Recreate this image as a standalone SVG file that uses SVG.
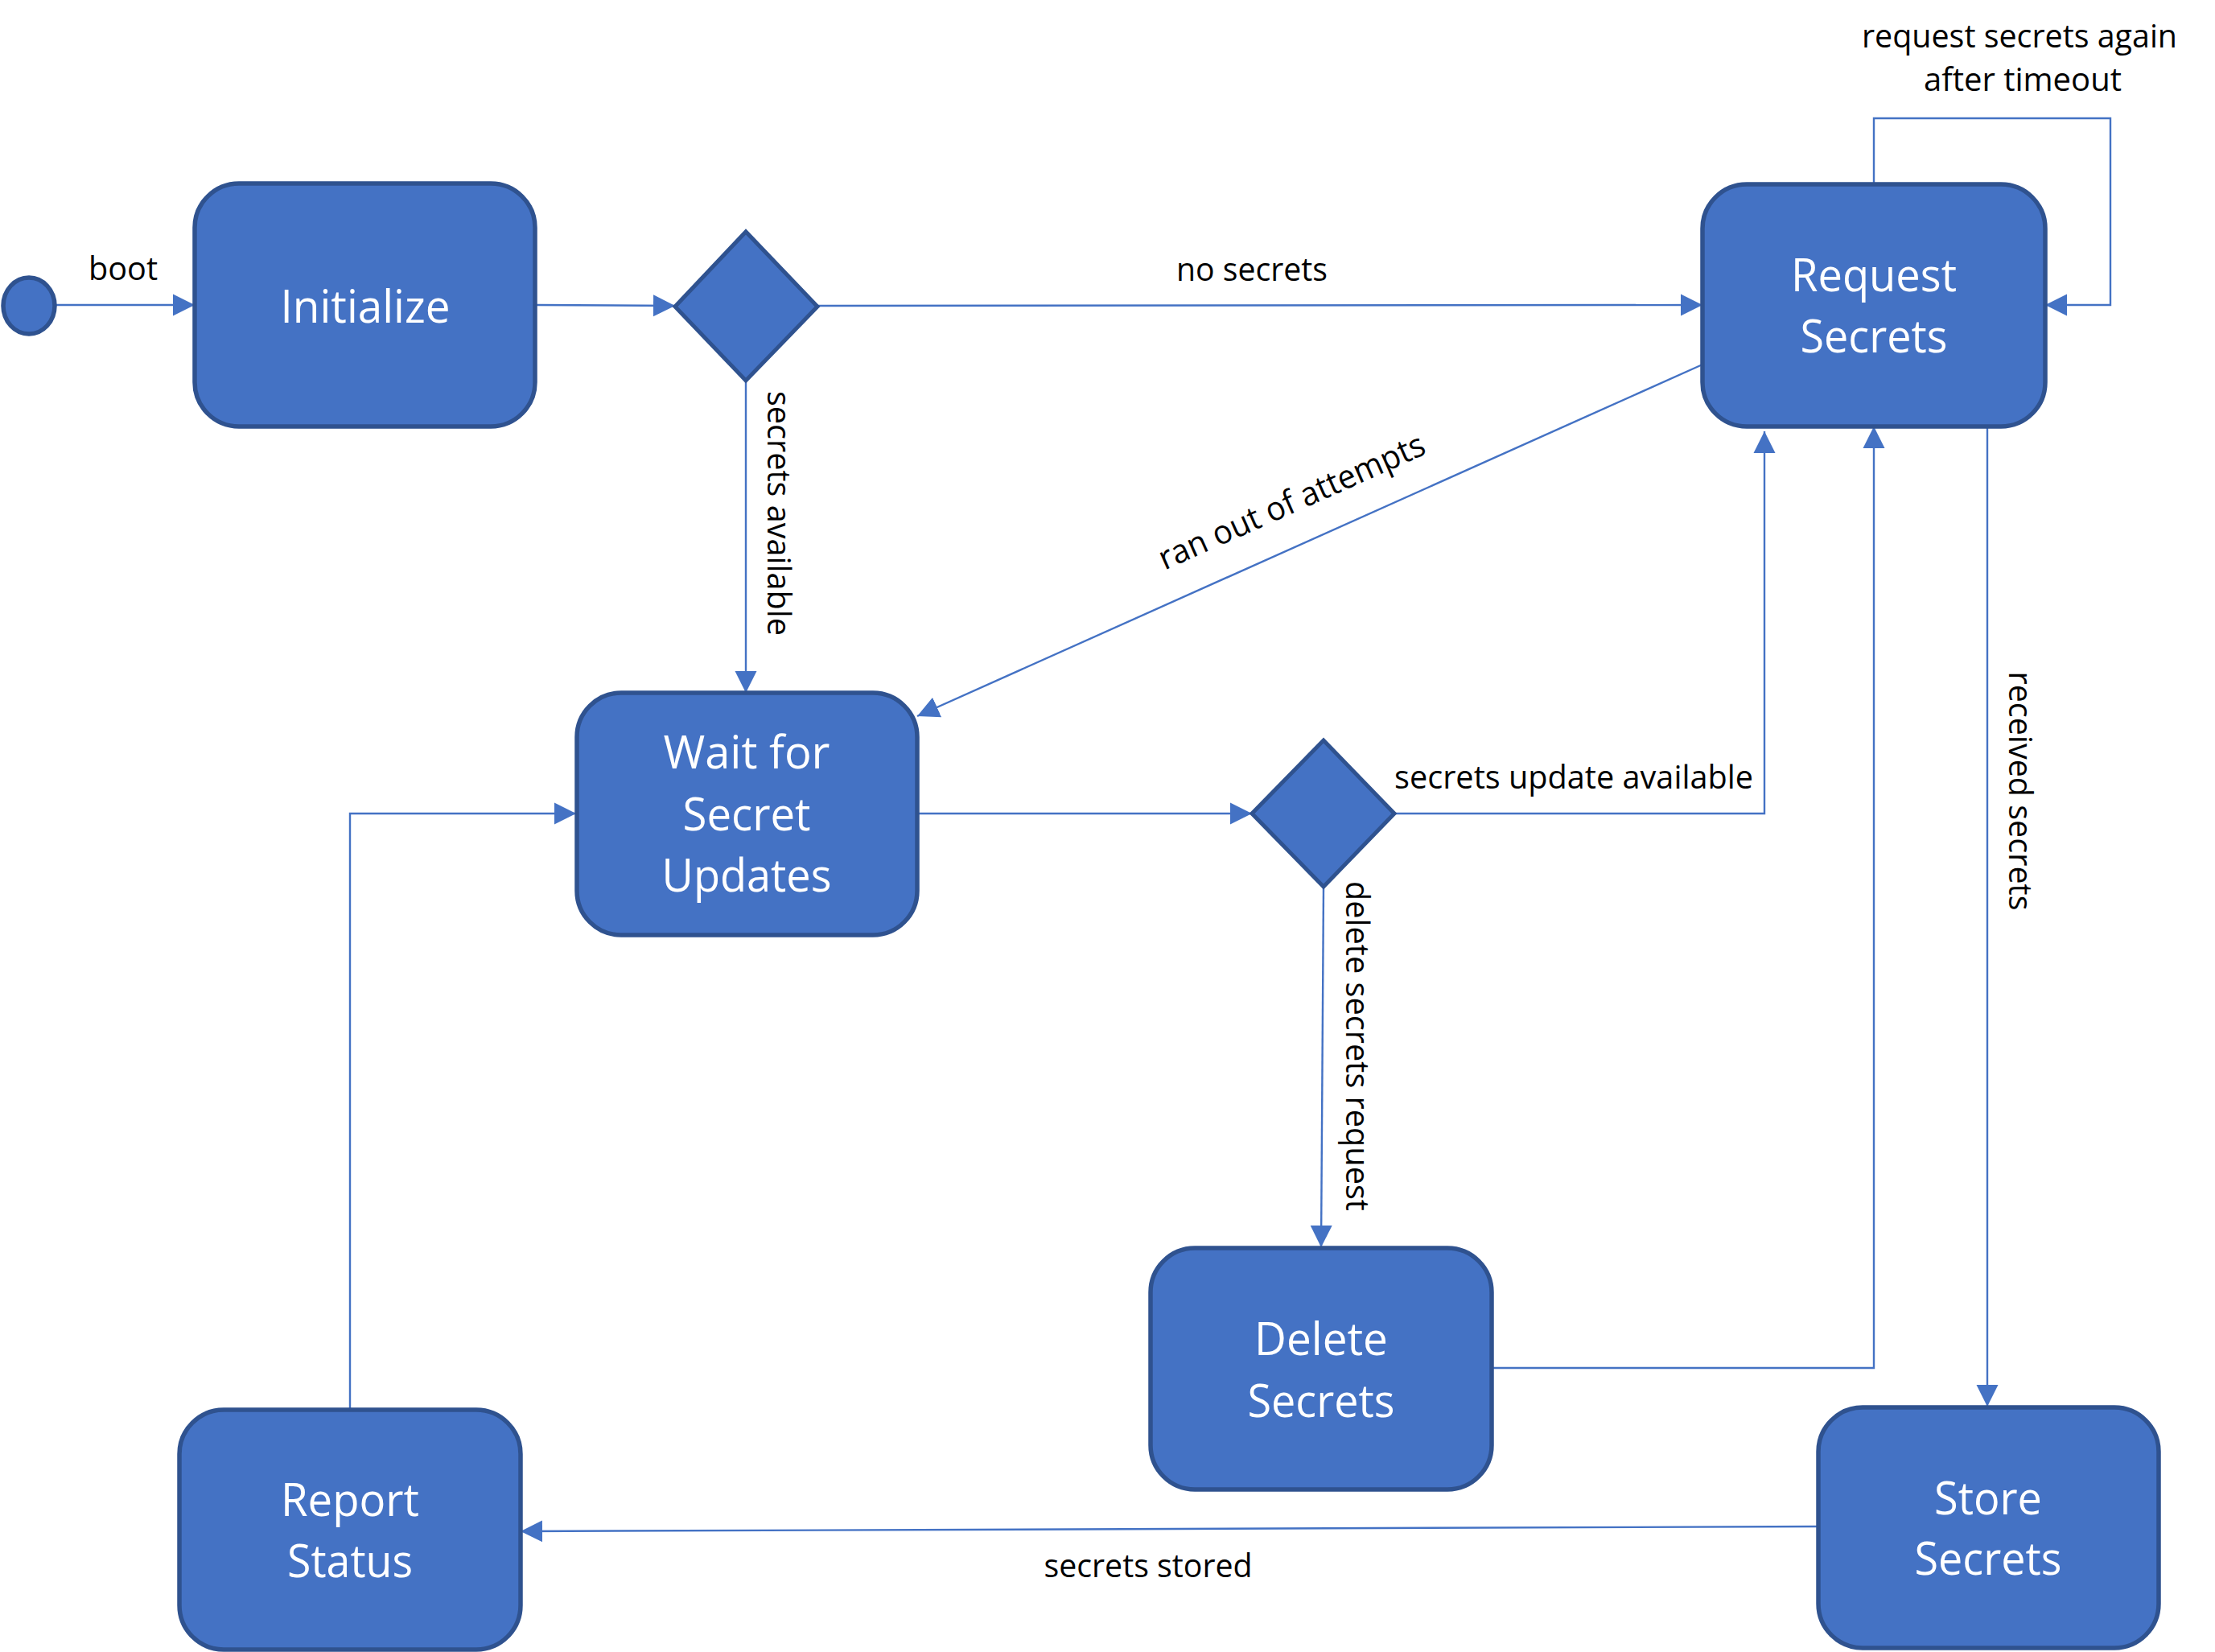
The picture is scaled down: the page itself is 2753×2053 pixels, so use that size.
<svg xmlns="http://www.w3.org/2000/svg" width="2753" height="2053" viewBox="0 0 2753 2053">
<style>
.box{fill:#4472C4;stroke:#2F528F;stroke-width:5.5}
.dia{fill:#4472C4;stroke:#2F528F;stroke-width:5}
.con{fill:none;stroke:#4472C4;stroke-width:2.4}
.nt{font-family:"Open Sans","Noto Sans","Liberation Sans",sans-serif;font-size:56px;fill:#FFFFFF;text-anchor:middle}
.lb{font-family:"Open Sans","Noto Sans","Liberation Sans",sans-serif;font-size:41px;fill:#000000;text-anchor:middle}
</style>
<defs>
<marker id="ah" markerUnits="userSpaceOnUse" markerWidth="28" markerHeight="28" viewBox="0 0 28 28" refX="27" refY="14" orient="auto">
<path d="M0,0.5 L27,14 L0,27.5 z" fill="#4472C4"/>
</marker>
</defs>
<rect width="2753" height="2053" fill="#FFFFFF"/>

<g id="connectors">
<path class="con" d="M68,379 L242,379" marker-end="url(#ah)"/>
<path class="con" d="M667,379 L839,380" marker-end="url(#ah)"/>
<path class="con" d="M1016,380 L2116,379" marker-end="url(#ah)"/>
<path class="con" d="M927,473 L927,861" marker-end="url(#ah)"/>
<path class="con" d="M2116,453 L1140,890" marker-end="url(#ah)"/>
<path class="con" d="M2329,229 V147 H2623 V379 H2542" marker-end="url(#ah)"/>
<path class="con" d="M1140,1011 L1556,1011" marker-end="url(#ah)"/>
<path class="con" d="M1733,1011 H2193 V536" marker-end="url(#ah)"/>
<path class="con" d="M1645,1102 L1642,1550" marker-end="url(#ah)"/>
<path class="con" d="M1854,1700 H2329 V530" marker-end="url(#ah)"/>
<path class="con" d="M2470,530 V1748" marker-end="url(#ah)"/>
<path class="con" d="M2260,1897 L647,1903" marker-end="url(#ah)"/>
<path class="con" d="M435,1752 V1011 H716" marker-end="url(#ah)"/>

<text class="lb" x="153" y="348" textLength="86" lengthAdjust="spacingAndGlyphs">boot</text>
<text class="lb" x="1556" y="349" textLength="188" lengthAdjust="spacingAndGlyphs">no secrets</text>
<text class="lb" transform="translate(954,638) rotate(90)" x="0" y="0" textLength="304" lengthAdjust="spacingAndGlyphs">secrets available</text>
<text class="lb" transform="translate(1611,636) rotate(-24)" x="0" y="0" textLength="358" lengthAdjust="spacingAndGlyphs">ran out of attempts</text>
<text class="lb" x="2510" y="59" textLength="392" lengthAdjust="spacingAndGlyphs">request secrets again</text>
<text class="lb" x="2514" y="113" textLength="246" lengthAdjust="spacingAndGlyphs">after timeout</text>
<text class="lb" x="1956" y="980" textLength="446" lengthAdjust="spacingAndGlyphs">secrets update available</text>
<text class="lb" transform="translate(1673,1300) rotate(90)" x="0" y="0" textLength="410" lengthAdjust="spacingAndGlyphs">delete secrets request</text>
<text class="lb" transform="translate(2497,983) rotate(90)" x="0" y="0" textLength="297" lengthAdjust="spacingAndGlyphs">received secrets</text>
<text class="lb" x="1427" y="1960" textLength="259" lengthAdjust="spacingAndGlyphs">secrets stored</text>
</g>

<g id="start">
<ellipse cx="36" cy="380" rx="32" ry="35" class="box" stroke-width="5"/>
</g>

<g id="initialize">
<rect class="box" x="242" y="228" width="423" height="302" rx="55" ry="55"/>
<text class="nt" x="454" y="401" textLength="211" lengthAdjust="spacingAndGlyphs">Initialize</text>
</g>

<g id="decision1">
<polygon class="dia" points="839,381 927,288 1016,381 927,473"/>
</g>

<g id="request-secrets">
<rect class="box" x="2116" y="229" width="426" height="301" rx="55" ry="55"/>
<text class="nt" x="2329" y="362" textLength="206" lengthAdjust="spacingAndGlyphs">Request</text>
<text class="nt" x="2329" y="438" textLength="183" lengthAdjust="spacingAndGlyphs">Secrets</text>
</g>

<g id="wait-for-secret-updates">
<rect class="box" x="717" y="861" width="423" height="301" rx="55" ry="55"/>
<text class="nt" x="928" y="955" textLength="207" lengthAdjust="spacingAndGlyphs">Wait for</text>
<text class="nt" x="928" y="1032" textLength="159" lengthAdjust="spacingAndGlyphs">Secret</text>
<text class="nt" x="928" y="1108" textLength="211" lengthAdjust="spacingAndGlyphs">Updates</text>
</g>

<g id="decision2">
<polygon class="dia" points="1556,1011 1645,920 1733,1011 1645,1102"/>
</g>

<g id="delete-secrets">
<rect class="box" x="1430" y="1551" width="424" height="300" rx="55" ry="55"/>
<text class="nt" x="1642" y="1684" textLength="166" lengthAdjust="spacingAndGlyphs">Delete</text>
<text class="nt" x="1642" y="1761" textLength="183" lengthAdjust="spacingAndGlyphs">Secrets</text>
</g>

<g id="report-status">
<rect class="box" x="223" y="1752" width="424" height="298" rx="55" ry="55"/>
<text class="nt" x="435" y="1884" textLength="172" lengthAdjust="spacingAndGlyphs">Report</text>
<text class="nt" x="435" y="1960" textLength="156" lengthAdjust="spacingAndGlyphs">Status</text>
</g>

<g id="store-secrets">
<rect class="box" x="2260" y="1749" width="423" height="299" rx="55" ry="55"/>
<text class="nt" x="2471" y="1882" textLength="134" lengthAdjust="spacingAndGlyphs">Store</text>
<text class="nt" x="2471" y="1957" textLength="183" lengthAdjust="spacingAndGlyphs">Secrets</text>
</g>
</svg>
